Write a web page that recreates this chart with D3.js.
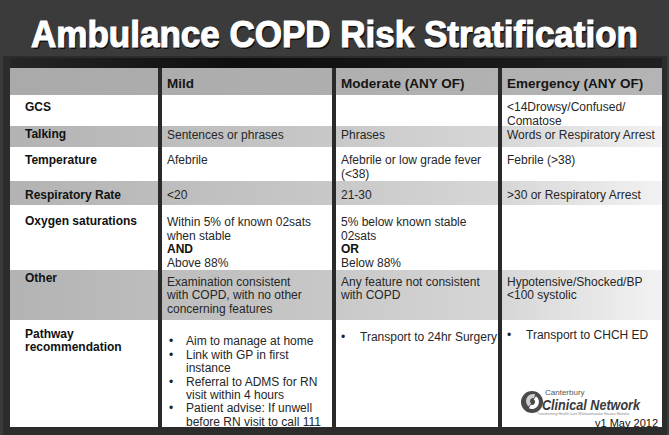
<!DOCTYPE html>
<html>
<head>
<meta charset="utf-8">
<script src="https://cdn.jsdelivr.net/npm/d3@7"></script>
<style>
  html, body { margin: 0; padding: 0; background: #3a3a3a; }
  svg { display: block; font-family: "Liberation Sans", Arial, sans-serif; }
</style>
</head>
<body>
<div id="chart"></div>
<script>
// table content
const title = "Ambulance COPD Risk Stratification";
const headers = ["", "Mild", "Moderate (ANY OF)", "Emergency (ANY OF)"];
const rowLabels = [
  ["GCS"], ["Talking"], ["Temperature"], ["Respiratory Rate"],
  ["Oxygen saturations"], ["Other"], ["Pathway", "recommendation"]
];
const mild = [
  [],
  ["Sentences or phrases"],
  ["Afebrile"],
  ["<20"],
  ["Within 5% of known 02sats", "when stable", "AND", "Above 88%"],
  ["Examination consistent", "with COPD, with no other", "concerning features"],
  ["• Aim to manage at home", "• Link with GP in first", "  instance",
   "• Referral to ADMS for RN", "  visit within 4 hours",
   "• Patient advise: If unwell", "  before RN visit to call 111"]
];
const moderate = [
  [],
  ["Phrases"],
  ["Afebrile or low grade fever", "(<38)"],
  ["21-30"],
  ["5% below known stable", "02sats", "OR", "Below 88%"],
  ["Any feature not consistent", "with COPD"],
  ["• Transport to 24hr Surgery"]
];
const emergency = [
  ["<14Drowsy/Confused/", "Comatose"],
  ["Words or Respiratory Arrest"],
  ["Febrile (>38)"],
  [">30 or Respiratory Arrest"],
  [],
  ["Hypotensive/Shocked/BP", "<100 systolic"],
  ["• Transport to CHCH ED"]
];
const boldLines = ["AND", "OR"];
const logoLines = ["Canterbury", "Clinical Network", "Transforming Health Care Whakawhanake Hauora Waitaha"];
const version = "v1 May 2012";

// layout
const W = 669, H = 435;
const tableLeft = 10, tableRight = 662, tableTop = 68;
const rowHeights = [27, 31, 21, 34, 24, 65, 50, 107];   // header + 7 rows
const rowShade = [true, false, true, false, true, false, true, false];
const colEdges = [10, 160, 334, 500, 662];
const sepW = 4;
const labelOffset = [15, 12, 7.5, 13, 13.5, 15.7, 7.3, 14];
const cellOffset = [15, 12, 8.5, 13, 13.5, 17, 11.7, 16.5];
const pathwayOffset = [21, 16.5, 15];
const lineH = 13.4;

const rowTops = [tableTop];
rowHeights.forEach(h => rowTops.push(rowTops[rowTops.length - 1] + h));
const tableBottom = rowTops[rowTops.length - 1];

const y = d3.scaleOrdinal().domain(d3.range(rowHeights.length)).range(rowTops);
const x = d3.scaleOrdinal().domain(d3.range(4)).range(colEdges.slice(0, 4));

const svg = d3.select("#chart").append("svg")
  .attr("width", W).attr("height", H);

const defs = svg.append("defs");
const band = defs.append("linearGradient").attr("id", "band");
band.append("stop").attr("offset", "0%").attr("stop-color", "#262626");
band.append("stop").attr("offset", "35%").attr("stop-color", "#0e0e0e");
band.append("stop").attr("offset", "100%").attr("stop-color", "#202020");
const shade = defs.append("linearGradient").attr("id", "shade");
shade.append("stop").attr("offset", "0%").attr("stop-color", "#b3b3b3");
shade.append("stop").attr("offset", "45%").attr("stop-color", "#c6c6c6");
shade.append("stop").attr("offset", "75%").attr("stop-color", "#d6d6d6");
shade.append("stop").attr("offset", "100%").attr("stop-color", "#f2f2f2");
const head = defs.append("linearGradient").attr("id", "head");
head.append("stop").attr("offset", "0%").attr("stop-color", "#aaaaaa");
head.append("stop").attr("offset", "100%").attr("stop-color", "#b4b4b4");

// background
svg.append("rect").attr("width", W).attr("height", H).attr("fill", "#3b3b3b");
svg.append("rect").attr("x", 3).attr("y", 56).attr("width", W - 5).attr("height", H - 56)
  .attr("fill", "#2c2c2c");

// title
svg.append("text")
  .attr("x", W / 2 + 1.5).attr("y", 48.5)
  .attr("text-anchor", "middle")
  .attr("font-size", 36).attr("font-weight", "bold")
  .attr("textLength", 607).attr("lengthAdjust", "spacingAndGlyphs")
  .attr("fill", "#111")
  .text(title);
svg.append("text")
  .attr("x", W / 2).attr("y", 47)
  .attr("text-anchor", "middle")
  .attr("font-size", 36).attr("font-weight", "bold")
  .attr("textLength", 607).attr("lengthAdjust", "spacingAndGlyphs")
  .attr("fill", "#fff").attr("stroke", "#fff").attr("stroke-width", 1.1)
  .text(title);

// dark band above the table
svg.append("rect")
  .attr("x", tableLeft).attr("y", 58)
  .attr("width", tableRight - tableLeft).attr("height", tableTop - 58)
  .attr("fill", "url(#band)");

// row backgrounds
svg.append("g").selectAll("rect")
  .data(rowHeights)
  .join("rect")
  .attr("x", tableLeft)
  .attr("y", (d, i) => y(i))
  .attr("width", tableRight - tableLeft)
  .attr("height", d => d)
  .attr("fill", (d, i) => i === 0 ? "url(#head)" : rowShade[i] ? "url(#shade)" : "#ffffff");

// column separators
svg.append("g").selectAll("rect")
  .data(colEdges.slice(1, 4))
  .join("rect")
  .attr("x", d => d - sepW / 2)
  .attr("y", tableTop)
  .attr("width", sepW)
  .attr("height", tableBottom - tableTop)
  .attr("fill", "#2a2a2a");

// headers
svg.append("g").selectAll("text")
  .data(headers)
  .join("text")
  .attr("x", (d, i) => x(i) + sepW / 2 + 5)
  .attr("y", y(0) + labelOffset[0] + 4.5)
  .attr("font-size", 13.5).attr("font-weight", "bold")
  .attr("fill", "#151515")
  .text(d => d);

// row labels
const labelG = svg.append("g");
rowLabels.forEach((lines, r) => {
  labelG.selectAll(null)
    .data(lines)
    .join("text")
    .attr("x", 25)
    .attr("y", (d, k) => y(r + 1) + labelOffset[r + 1] + 4.3 + k * 12.7)
    .attr("font-size", 12).attr("font-weight", "bold")
    .attr("fill", "#111")
    .text(d => d);
});

// cells
const cellG = svg.append("g");
[mild, moderate, emergency].forEach((col, c) => {
  const left = x(c + 1) + sepW / 2;
  col.forEach((lines, r) => {
    const top = y(r + 1) + (r === 6 ? pathwayOffset[c] : cellOffset[r + 1]) + 4.3;
    const g = cellG.append("g");
    lines.forEach((line, k) => {
      const bullet = line.startsWith("• ");
      const indent = line.startsWith("  ");
      const txt = bullet || indent ? line.slice(2) : line;
      const ty = top + k * lineH;
      if (bullet) {
        g.append("text")
          .attr("x", left + (c === 0 ? 7 : 5))
          .attr("y", ty)
          .attr("font-size", 12).attr("fill", "#222")
          .text("•");
      }
      g.append("text")
        .attr("x", left + (bullet || indent ? 24 : 5))
        .attr("y", ty)
        .attr("font-size", 12)
        .attr("font-weight", boldLines.includes(txt) ? "bold" : "normal")
        .attr("fill", boldLines.includes(txt) ? "#111" : "#262626")
        .text(txt);
    });
  });
});

// logo
const logo = svg.append("g");
logo.append("circle").attr("cx", 532).attr("cy", 402).attr("r", 11).attr("fill", "#4a4a4a");
logo.append("path")
  .attr("d", d3.arc()({ innerRadius: 3, outerRadius: 7, startAngle: 0.6, endAngle: 3.6 }))
  .attr("transform", "translate(532,402)")
  .attr("fill", "#fff");
logo.append("path")
  .attr("d", d3.arc()({ innerRadius: 3, outerRadius: 7, startAngle: 3.8, endAngle: 6.6 }))
  .attr("transform", "translate(533,401)")
  .attr("fill", "#cfcfcf");
logo.append("text").attr("x", 545).attr("y", 395).attr("font-size", 8)
  .attr("fill", "#555").text(logoLines[0]);
logo.append("text").attr("x", 542).attr("y", 410).attr("font-size", 14.5)
  .attr("font-weight", "bold").attr("font-style", "italic")
  .attr("textLength", 98).attr("lengthAdjust", "spacingAndGlyphs")
  .attr("fill", "#3a3a3a").text(logoLines[1]);
logo.append("text").attr("x", 537).attr("y", 415).attr("font-size", 3.5)
  .attr("fill", "#888").text(logoLines[2]);

svg.append("text")
  .attr("x", 658).attr("y", 426.5)
  .attr("text-anchor", "end")
  .attr("font-size", 11).attr("fill", "#111")
  .text(version);
</script>
</body>
</html>
